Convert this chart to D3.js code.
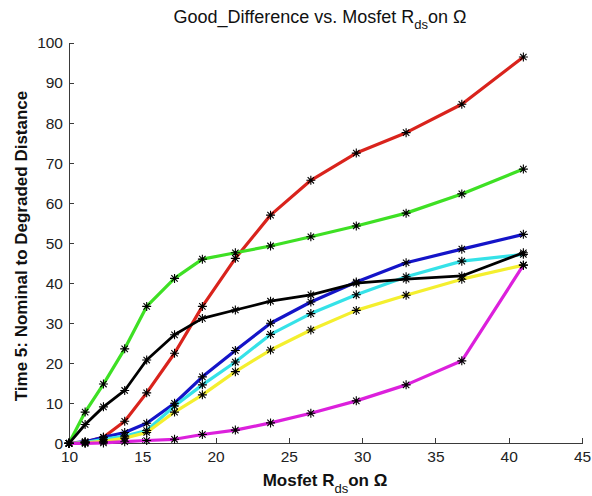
<!DOCTYPE html>
<html lang="en">
    <head>
        <meta charset="utf-8">
        <title>Good_Difference vs. Mosfet Rds on</title>
        <script type="text/javascript" src="https://d3js.org/d3.v7.min.js"></script>
        <style type="text/css">
            body {
                margin: 0;
                background: #fff;
            }

            .axis path,
            .axis line {
                stroke: #3a3a3a;
                shape-rendering: crispEdges;
            }

            .axis text {
                font-family: "Liberation Sans", "Arial", sans-serif;
                font-size: 15.5px;
                fill: #222;
            }

            .label {
                font-family: "Liberation Sans", "Arial", sans-serif;
                fill: #111;
            }
        </style>
    </head>
    <body>
        <script type="text/javascript">

            const width = 592;
            const height = 496;

            // x values (Rds on, ohm) shared by every curve
            const rds = [10, 11.1, 12.35, 13.8, 15.3, 17.2, 19.1, 21.35, 23.75, 26.5, 29.6, 33, 36.8, 41];

            // one list per curve
            const redVals     = [0, 0.3, 1.5, 5.5, 12.6, 22.5, 34.2, 46.2, 57, 65.7, 72.5, 77.6, 84.7, 96.5];
            const greenVals   = [0, 7.8, 14.8, 23.6, 34.2, 41.2, 46, 47.6, 49.3, 51.6, 54.3, 57.5, 62.3, 68.5];
            const blueVals    = [0, 0.4, 1.5, 2.7, 5, 10, 16.6, 23.2, 30, 35.3, 40.3, 45.1, 48.5, 52.2];
            const cyanVals    = [0, 0.2, 1, 1.8, 3.2, 9.3, 14.6, 20.3, 27.2, 32.4, 37.1, 41.6, 45.5, 47.2];
            const yellowVals  = [0, 0.1, 0.5, 1.3, 2.7, 7.8, 12.1, 17.9, 23.3, 28.3, 33.2, 37, 41, 44.5];
            const magentaVals = [0, 0, 0.1, 0.4, 0.7, 1.0, 2.2, 3.3, 5.1, 7.5, 10.6, 14.6, 20.6, 44.5];
            const blackVals   = [0, 4.7, 9.1, 13.2, 20.8, 27.1, 31.2, 33.3, 35.5, 37.1, 40, 41, 41.8, 47.6];

            const xTicks = [10, 15, 20, 25, 30, 35, 40, 45];
            const yTicks = [0, 10, 20, 30, 40, 50, 60, 70, 80, 90, 100];

            const series = [
                {vals: redVals, color: "#d9231c"},
                {vals: greenVals, color: "#3ee024"},
                {vals: blueVals, color: "#1414c8"},
                {vals: cyanVals, color: "#35e2e8"},
                {vals: yellowVals, color: "#f4ef2e"},
                {vals: magentaVals, color: "#dc20dc"},
                {vals: blackVals, color: "#000000"}
            ];

            const xScale = d3.scaleLinear()
                             .domain([10, 45])
                             .range([69, 582]);

            const yScale = d3.scaleLinear()
                             .domain([0, 100])
                             .range([443.3, 43]);

            const svg = d3.select("body")
                          .append("svg")
                          .attr("width", width)
                          .attr("height", height);

            // axes, ticks point inward like matlab
            const bottomAxis = d3.axisBottom(xScale)
                                 .tickValues(xTicks)
                                 .tickSizeInner(-5)
                                 .tickSizeOuter(0)
                                 .tickPadding(8);

            const leftAxis = d3.axisLeft(yScale)
                               .tickValues(yTicks)
                               .tickSizeInner(-5)
                               .tickSizeOuter(0)
                               .tickPadding(6);

            svg.append("g")
               .attr("class", "axis")
               .attr("transform", "translate(0," + yScale(0) + ")")
               .call(bottomAxis);

            svg.append("g")
               .attr("class", "axis")
               .attr("transform", "translate(" + xScale(10) + ",0)")
               .call(leftAxis);

            const line = d3.line()
                           .x((d, i) => xScale(rds[i]))
                           .y(d => yScale(d));

            svg.selectAll(".curve")
               .data(series)
               .enter()
               .append("path")
               .attr("class", "curve")
               .attr("d", d => line(d.vals))
               .attr("fill", "none")
               .attr("stroke", d => d.color)
               .attr("stroke-width", d => d.color === "#000000" ? 2.8 : 3.2)
               .attr("stroke-linejoin", "round");

            // asterisk markers
            const star = "M-4.5,0L4.5,0M0,-4.5L0,4.5M-3.2,-3.2L3.2,3.2M-3.2,3.2L3.2,-3.2";
            series.forEach(s => {
                svg.append("g")
                   .selectAll("path")
                   .data(s.vals)
                   .enter()
                   .append("path")
                   .attr("d", star)
                   .attr("transform", (d, i) => "translate(" + xScale(rds[i]) + "," + yScale(d) + ")")
                   .attr("stroke", "#000")
                   .attr("stroke-width", 1.1)
                   .attr("fill", "none");
            });

            // title
            const title = svg.append("text")
                             .attr("class", "label")
                             .attr("x", 320)
                             .attr("y", 23)
                             .attr("text-anchor", "middle")
                             .style("font-size", "18px");
            title.append("tspan").text("Good_Difference vs. Mosfet R");
            title.append("tspan").attr("dy", 6).style("font-size", "13px").text("ds");
            title.append("tspan").attr("dy", -6).text("on \u03A9");

            // x label
            const xl = svg.append("text")
                          .attr("class", "label")
                          .attr("x", 325)
                          .attr("y", 486)
                          .attr("text-anchor", "middle")
                          .style("font-size", "17px")
                          .style("font-weight", "bold");
            xl.append("tspan").text("Mosfet R");
            xl.append("tspan").attr("dy", 7).style("font-size", "13px").style("font-weight", "normal").text("ds");
            xl.append("tspan").attr("dy", -7).text("on \u03A9");

            // y label
            svg.append("text")
               .attr("class", "label")
               .attr("transform", "translate(27,246) rotate(-90)")
               .attr("text-anchor", "middle")
               .style("font-size", "17px")
               .style("font-weight", "bold")
               .text("Time 5: Nominal to Degraded Distance");

        </script>
    </body>
</html>
